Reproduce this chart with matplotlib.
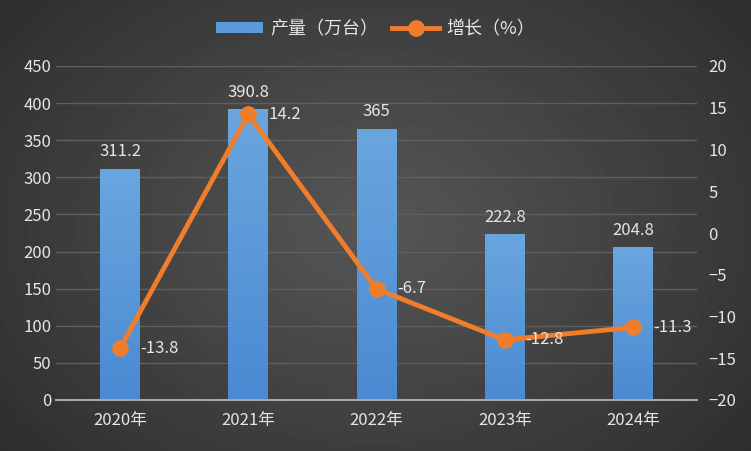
import matplotlib.pyplot as plt
import numpy as np
from matplotlib.lines import Line2D
from matplotlib.patches import Patch
from matplotlib.colors import LinearSegmentedColormap

plt.rcParams['font.family'] = ['Noto Sans CJK SC', 'DejaVu Sans']

# data
years = ['2020年', '2021年', '2022年', '2023年', '2024年']
output = [311.2, 390.8, 365, 222.8, 204.8]
growth = [-13.8, 14.2, -6.7, -12.8, -11.3]

text_color = '#e6e6e6'
orange = '#f07d2b'

fig = plt.figure(figsize=(7.51, 4.51), dpi=100)

# radial grey background
bg = fig.add_axes([0, 0, 1, 1], zorder=-10)
yy, xx = np.mgrid[0:451, 0:751]
r = np.sqrt(((xx - 375) / 520.0) ** 2 + ((yy - 225) / 380.0) ** 2)
shade = np.clip(0.34 - 0.17 * r, 0.15, 0.34)
bg.imshow(shade, cmap='gray', vmin=0, vmax=1, aspect='auto', extent=[0, 1, 0, 1])
bg.axis('off')

ax = fig.add_axes([56 / 751, 51 / 451, 641 / 751, 334 / 451])
ax.patch.set_alpha(0)
x = np.arange(len(years))
bw = 0.31

# bars with vertical gradient
grad = np.linspace(0, 1, 256).reshape(-1, 1)
bcmap = LinearSegmentedColormap.from_list('b', ['#4a8ad2', '#6aa6de'])
for i, v in enumerate(output):
    ax.imshow(grad, cmap=bcmap, origin='lower', aspect='auto',
              extent=[x[i] - bw / 2, x[i] + bw / 2, 0, v], zorder=2)
    ax.text(x[i], v + 12, f'{v:g}', ha='center', va='bottom',
            color=text_color, fontsize=12, zorder=5)

ax.set_xlim(-0.5, len(years) - 0.5)
ax.set_ylim(0, 450)
ax.set_yticks(range(0, 451, 50))
ax.set_xticks(x)
ax.set_xticklabels(years)
ax.grid(axis='y', color='#5f5f5f', linewidth=1)
ax.set_axisbelow(True)
for s in ['top', 'right', 'left']:
    ax.spines[s].set_visible(False)
ax.spines['bottom'].set_color('#a6a6a6')
ax.spines['bottom'].set_linewidth(1.5)
ax.tick_params(colors=text_color, labelsize=12, length=0)
ax.tick_params(axis='x', pad=9)

ax2 = ax.twinx()
ax2.set_ylim(-20, 20)
ax2.set_yticks(range(-20, 21, 5))
ax2.plot(x, growth, color=orange, linewidth=3.5, marker='o', markersize=11, zorder=4)
for i, g in enumerate(growth):
    ax2.text(x[i] + 0.16, g, f'{g:g}', ha='left', va='center',
             color=text_color, fontsize=12, zorder=5)
for s in ['top', 'right', 'left', 'bottom']:
    ax2.spines[s].set_visible(False)
ax2.tick_params(colors=text_color, labelsize=12, length=0, pad=8)

handles = [Patch(facecolor='#5b9bd9', edgecolor='none'),
           Line2D([0], [0], color=orange, linewidth=3.5, marker='o', markersize=11)]
leg = fig.legend(handles, ['产量（万台）', '增长（%）'], loc='center',
                 bbox_to_anchor=(0.5, 1 - 29 / 451), ncol=2, frameon=False,
                 fontsize=13, handlelength=2.6, handleheight=0.6, columnspacing=0.8,
                 handletextpad=0.4)
for t in leg.get_texts():
    t.set_color(text_color)

fig.savefig('out.png', dpi=100)
